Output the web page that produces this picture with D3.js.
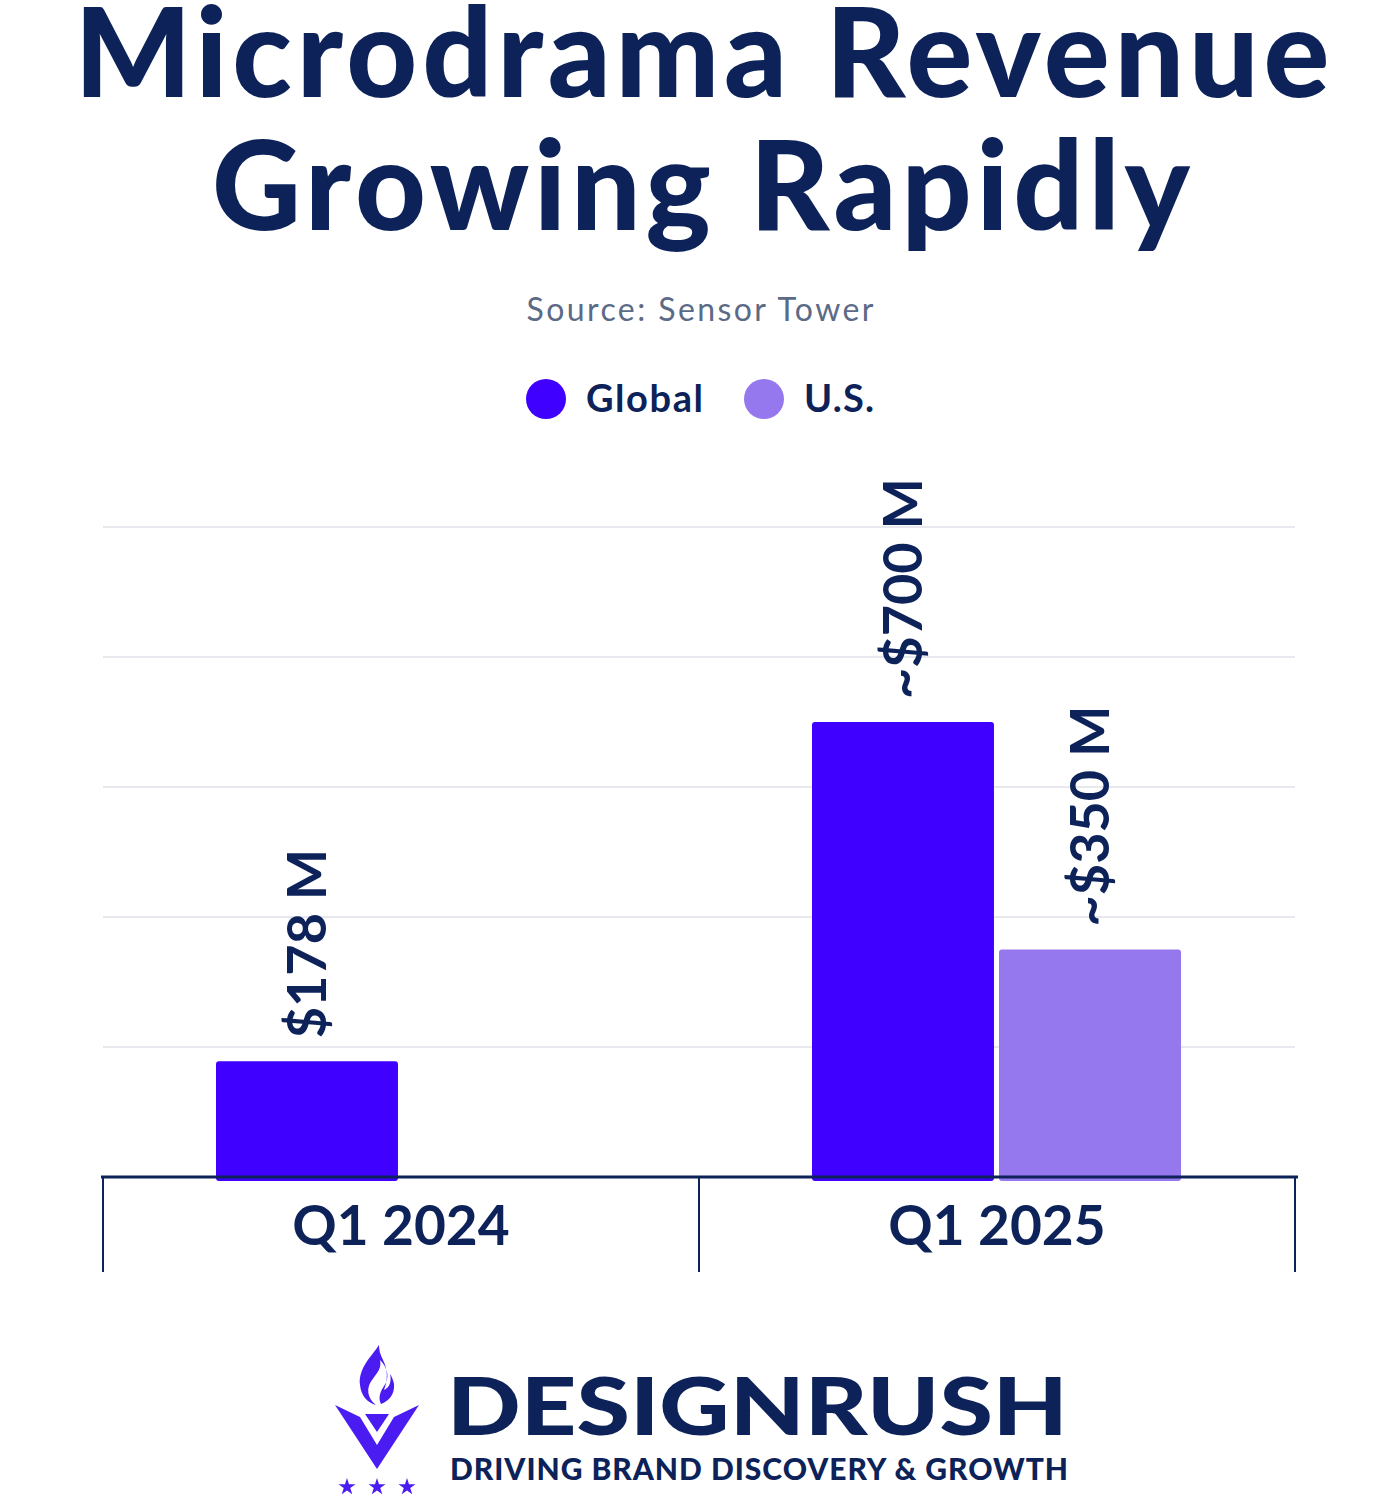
<!DOCTYPE html>
<html>
<head>
<meta charset="utf-8">
<script src="https://cdn.jsdelivr.net/npm/d3@7"></script>
<style>
  body { margin: 0; background: #ffffff; }
  svg { display: block; }
  text { font-family: Lato, "Open Sans", sans-serif; }
</style>
</head>
<body>
<div id="chart"></div>
<script>
// ==============================
// Chart data
// ==============================
var categories = ["Q1 2024", "Q1 2025"];
var seriesNames = ["Global", "U.S."];
var globalValues = [178, 700];
var usValues = [null, 350];
var globalLabels = ["$178 M", "~$700 M"];
var usLabels = ["", "~$350 M"];
var yTicks = [0, 200, 400, 600, 800, 1000];

var titleLines = ["Microdrama Revenue", "Growing Rapidly"];
var sourceText = "Source: Sensor Tower";

// ==============================
// Setup SVG Area
// ==============================
var svgWidth = 1400;
var svgHeight = 1496;
var navy = "#0c2259";
var colors = {"Global": "#3f00ff", "U.S.": "#9577ee"};

var svg = d3.select("#chart")
  .append("svg")
  .attr("width", svgWidth)
  .attr("height", svgHeight);

// Spread a text element's letters so it spans a target width
function fitSpacing(sel, target) {
  var len = sel.node().getComputedTextLength();
  var n = sel.text().length;
  var ls = (target - len) / (n - 1);
  sel.attr("letter-spacing", ls);
  // letter-spacing also trails the last glyph; pull centred text back
  if (sel.attr("text-anchor") === "middle") sel.attr("dx", ls / 2);
  return ls;
}

// Stretch a left-anchored text horizontally to a target width
function fitStretch(sel, target) {
  var x = +sel.attr("x");
  var len = sel.node().getComputedTextLength();
  var k = target / len;
  sel.attr("x", 0)
    .attr("transform", `translate(${x}, 0) scale(${k}, 1)`);
}

// Title
var t1 = svg.append("text")
  .attr("x", 702).attr("y", 97)
  .attr("text-anchor", "middle")
  .attr("font-size", 123)
  .attr("font-weight", 900)
  .attr("fill", navy)
  .text(titleLines[0]);
fitSpacing(t1, 1255);

var t2 = svg.append("text")
  .attr("x", 701).attr("y", 230)
  .attr("text-anchor", "middle")
  .attr("font-size", 123)
  .attr("font-weight", 900)
  .attr("fill", navy)
  .text(titleLines[1]);
fitSpacing(t2, 978);

// Source
var src = svg.append("text")
  .attr("x", 700).attr("y", 321)
  .attr("text-anchor", "middle")
  .attr("font-size", 32)
  .attr("fill", "#5b6a86")
  .text(sourceText);
fitSpacing(src, 347);

// Legend
var legendX = [546, 764];
var legendW = [117, 70];
var legend = svg.selectAll(".legend")
  .data(seriesNames)
  .enter().append("g")
  .attr("class", "legend")
  .attr("transform", (d, i) => `translate(${legendX[i]}, 399)`);

legend.append("circle")
  .attr("r", 20)
  .attr("fill", d => colors[d]);

legend.append("text")
  .attr("x", 40)
  .attr("y", 13)
  .attr("font-size", 38)
  .attr("font-weight", 700)
  .attr("fill", navy)
  .text(d => d)
  .each(function(d, i) { fitSpacing(d3.select(this), legendW[i]); });

// ==============================
// Build plot
// ==============================
var xScale = d3.scaleBand()
  .domain(categories)
  .range([103, 1295]);

var xSub = d3.scaleBand()
  .domain(seriesNames)
  .range([113, 482])
  .paddingInner(0.027);

var yScale = d3.scaleLinear()
  .domain([0, 1000])
  .range([1177, 527]);

// Gridlines
svg.append("g")
  .selectAll("line")
  .data(yTicks.slice(1))
  .enter().append("line")
  .attr("x1", 103).attr("x2", 1295)
  .attr("y1", d => yScale(d)).attr("y2", d => yScale(d))
  .attr("stroke", "#e8e8ef")
  .attr("stroke-width", 2);

// Bar rows
var barData = [];
categories.forEach(function(c, i) {
  barData.push({cat: c, series: "Global", value: globalValues[i], label: globalLabels[i]});
  if (usValues[i] !== null) {
    barData.push({cat: c, series: "U.S.", value: usValues[i], label: usLabels[i]});
  }
});

svg.append("g")
  .selectAll("rect")
  .data(barData)
  .enter().append("rect")
  .attr("x", d => xScale(d.cat) + xSub(d.series))
  .attr("y", d => yScale(d.value))
  .attr("width", xSub.bandwidth())
  .attr("height", d => yScale(0) - yScale(d.value) + 4)
  .attr("rx", 3)
  .attr("fill", d => colors[d.series]);

// Value labels (rotated)
svg.append("g")
  .selectAll("text")
  .data(barData)
  .enter().append("text")
  .attr("transform", d => `translate(${xScale(d.cat) + xSub(d.series) + xSub.bandwidth() / 2}, ${yScale(d.value) - 23}) rotate(-90)`)
  .attr("dy", "0.36em")
  .attr("font-size", 54)
  .attr("font-weight", 700)
  .attr("fill", navy)
  .text(d => d.label);

// X axis
var xAxis = svg.append("g");
xAxis.append("line")
  .attr("x1", 101).attr("x2", 1298)
  .attr("y1", 1177).attr("y2", 1177)
  .attr("stroke", navy)
  .attr("stroke-width", 3);

var tickX = categories.map(c => xScale(c)).concat([xScale.range()[1]]);
xAxis.selectAll(".tick")
  .data(tickX)
  .enter().append("line")
  .attr("class", "tick")
  .attr("x1", d => d).attr("x2", d => d)
  .attr("y1", 1177).attr("y2", 1272)
  .attr("stroke", navy)
  .attr("stroke-width", 2);

xAxis.selectAll(".cat")
  .data(categories)
  .enter().append("text")
  .attr("class", "cat")
  .attr("x", d => xScale(d) + xScale.bandwidth() / 2)
  .attr("y", 1245)
  .attr("text-anchor", "middle")
  .attr("font-size", 55)
  .attr("font-weight", 700)
  .attr("fill", navy)
  .text(d => d);

// ==============================
// Logo
// ==============================
var logo = svg.append("g");
var purple = "#4a1cf2";

// flame
logo.append("path")
  .attr("d", "M379,1345 C372,1356 358,1368 360,1385 C361,1396 368,1403 376,1405 C367,1398 366,1388 372,1380 C377,1373 382,1368 380,1360 C388,1368 390,1378 384,1386 C380,1392 378,1398 381,1404 C389,1401 395,1394 394,1384 C393,1378 390,1374 390,1374 C392,1382 389,1388 384,1390 C388,1380 388,1370 383,1360 C380,1354 379,1350 379,1345 Z")
  .attr("fill", purple);

// V
logo.append("path")
  .attr("d", "M335,1405 L360,1417 L377,1445 L394,1417 L419,1405 L377,1469 Z")
  .attr("fill", purple);
logo.append("path")
  .attr("d", "M365,1414 L389,1414 L377,1432 Z")
  .attr("fill", purple);

// stars
var star = d3.symbol().type(d3.symbolStar).size(90);
[347, 377, 407].forEach(function(x) {
  logo.append("path")
    .attr("d", star())
    .attr("transform", `translate(${x}, 1487)`)
    .attr("fill", purple);
});

var brand = logo.append("text")
  .attr("x", 447).attr("y", 1435)
  .attr("font-size", 80)
  .attr("font-weight", 900)
  .attr("fill", navy)
  .text("DESIGNRUSH");
fitStretch(brand, 621);

var tag = logo.append("text")
  .attr("x", 450).attr("y", 1480)
  .attr("font-size", 30)
  .attr("font-weight", 900)
  .attr("fill", navy)
  .text("DRIVING BRAND DISCOVERY & GROWTH");
fitSpacing(tag, 618);
</script>
</body>
</html>
